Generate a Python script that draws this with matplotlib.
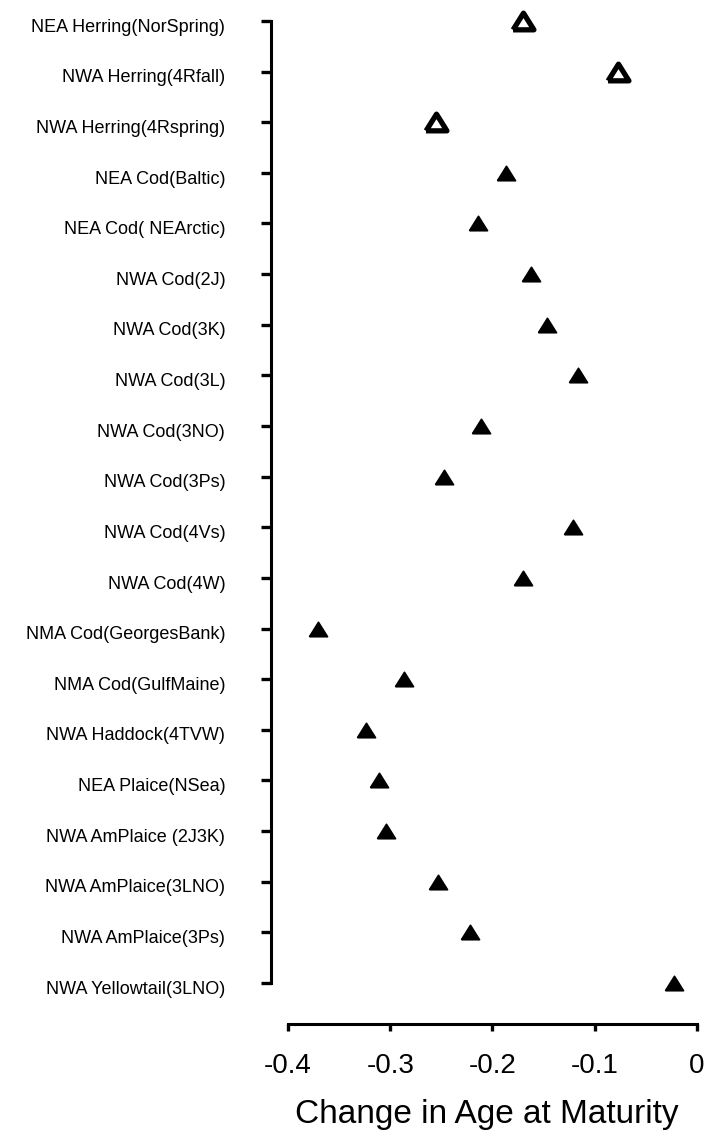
import matplotlib
matplotlib.use('Agg')
import matplotlib.pyplot as plt
import matplotlib.transforms as mtransforms
import numpy as np

plt.rcParams['font.family'] = ['Liberation Sans', 'DejaVu Sans']

# stocks, top to bottom
stocks = [
    'NEA Herring(NorSpring)', 'NWA Herring(4Rfall)', 'NWA Herring(4Rspring)',
    'NEA Cod(Baltic)', 'NEA Cod( NEArctic)', 'NWA Cod(2J)', 'NWA Cod(3K)',
    'NWA Cod(3L)', 'NWA Cod(3NO)', 'NWA Cod(3Ps)', 'NWA Cod(4Vs)',
    'NWA Cod(4W)', 'NMA Cod(GeorgesBank)', 'NMA Cod(GulfMaine)',
    'NWA Haddock(4TVW)', 'NEA Plaice(NSea)', 'NWA AmPlaice (2J3K)',
    'NWA AmPlaice(3LNO)', 'NWA AmPlaice(3Ps)', 'NWA Yellowtail(3LNO)',
]
change = [
    -0.170, -0.077, -0.255,
    -0.187, -0.214, -0.162, -0.147,
    -0.116, -0.211, -0.247, -0.121,
    -0.170, -0.371, -0.287,
    -0.324, -0.311, -0.304,
    -0.253, -0.222, -0.022,
]
# herring stocks drawn as open symbols
is_open = [True, True, True] + [False] * 17

xticks = [-0.4, -0.3, -0.2, -0.1, 0.0]
xticklabels = ['-0.4', '-0.3', '-0.2', '-0.1', '0']

fig = plt.figure(figsize=(7.07, 11.38), dpi=100)
ax = fig.add_axes([0.3833, 0.1002, 0.6097, 0.8992])

y = np.arange(len(stocks))
change = np.array(change)
is_open = np.array(is_open)

# wide, flat triangle
tri = [(-1.0, -0.8), (1.0, -0.8), (0.0, 0.8), (-1.0, -0.8)]

ax.plot(change[~is_open], y[~is_open], linestyle='none', marker=tri,
        markersize=13, color='black', markeredgewidth=1.2)
ax.plot(change[is_open], y[is_open], linestyle='none', marker=tri,
        markersize=15, markerfacecolor='white', markeredgecolor='black',
        markeredgewidth=3.8)

ax.set_xlim(-0.4166, 0.005)
ax.set_ylim(len(stocks) - 1 + 0.81, -0.4)

ax.set_yticks(y)
ax.set_yticklabels(stocks, fontsize=13)
ax.set_xticks(xticks)
ax.set_xticklabels(xticklabels, fontsize=20)
ax.set_xlabel('Change in Age at Maturity', fontsize=24, labelpad=14)

for side in ('top', 'right'):
    ax.spines[side].set_visible(False)
ax.spines['left'].set_bounds(0, len(stocks) - 1)
ax.spines['bottom'].set_bounds(-0.4, 0)
ax.spines['left'].set_linewidth(2.2)
ax.spines['bottom'].set_linewidth(2.2)

ax.tick_params(axis='y', direction='out', length=7, width=2.4, pad=26)
ax.tick_params(axis='x', direction='out', length=5, width=2.4, pad=16)

# nudge stock names a touch below their ticks
shift = mtransforms.ScaledTranslation(0, -3 / 72, fig.dpi_scale_trans)
for lbl in ax.get_yticklabels():
    lbl.set_transform(lbl.get_transform() + shift)

fig.savefig('out.png', dpi=100, facecolor='white')
